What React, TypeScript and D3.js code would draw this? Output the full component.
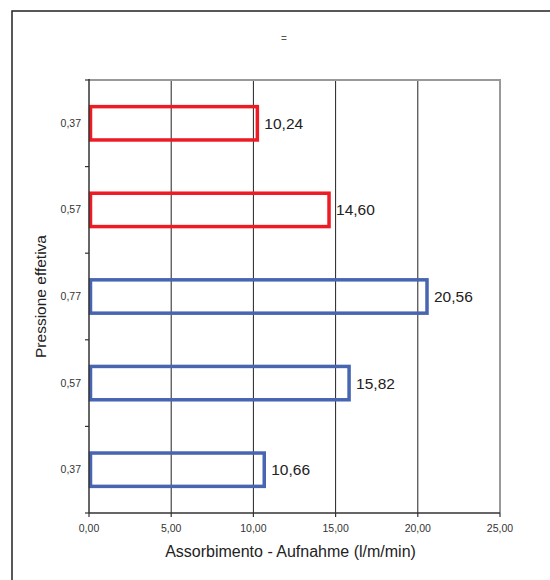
import React from "react";
import * as d3 from "d3";

const categories = ["0,37", "0,57", "0,77", "0,57", "0,37"];
const values = [10.24, 14.6, 20.56, 15.82, 10.66];
const seriesColor = ["#ED1C24", "#ED1C24", "#4865B2", "#4865B2", "#4865B2"];
const xTicks = [0, 5, 10, 15, 20, 25];
const titleText = "=";
const xTitle = "Assorbimento - Aufnahme (l/m/min)";
const yTitle = "Pressione effetiva";

const fmt = (v: number) => v.toFixed(2).replace(".", ",");

export default function App() {
  const W = 550, H = 580;
  const left = 89, right = 500, top = 80, bottom = 513;
  const x = d3.scaleLinear().domain([0, 25]).range([left, right]);
  const y = d3.scaleBand<number>().domain(categories.map((_, i) => i)).range([top, bottom]).padding(0);
  const bw = y.bandwidth();
  const barH = bw * 0.385;
  const font = "'Liberation Sans', Arial, sans-serif";

  return (
    <svg width={W} height={H} style={{ position: "absolute", left: 0, top: 0, background: "#fff" }} fontFamily={font}>
      <rect x={12} y={11} width={600} height={620} fill="#fff" stroke="#222" strokeWidth={1.5} />
      <text x={284} y={42} textAnchor="middle" fontSize={10} fill="#555">{titleText}</text>
      {/* gridlines */}
      {xTicks.slice(1, -1).map((t) => (
        <line key={t} x1={x(t)} x2={x(t)} y1={top} y2={bottom} stroke="#222" strokeWidth={1} />
      ))}
      <line x1={x(25)} x2={x(25)} y1={top} y2={bottom} stroke="#999" strokeWidth={2} />
      <line x1={left} x2={right + 1} y1={top} y2={top} stroke="#999" strokeWidth={2} />
      {/* bars */}
      {values.map((v, i) => (
        <rect
          key={i}
          x={x(0) + 1.5}
          y={(y(i) as number) + bw / 2 - barH / 2}
          width={x(v) - x(0) - 1.5}
          height={barH}
          fill="none"
          stroke={seriesColor[i]}
          strokeWidth={3.5}
        />
      ))}
      {values.map((v, i) => (
        <text key={"l" + i} x={x(v) + 7} y={(y(i) as number) + bw / 2 + 5.5} fontSize={15.5} fill="#222">
          {fmt(v)}
        </text>
      ))}
      {/* axes */}
      <line x1={left} x2={left} y1={top - 1} y2={bottom} stroke="#333" strokeWidth={1.5} />
      <line x1={left} x2={right} y1={bottom} y2={bottom} stroke="#333" strokeWidth={1.5} />
      {categories.map((_, i) => (
        <line key={"yt" + i} x1={left - 4} x2={left} y1={y(i) as number} y2={y(i) as number} stroke="#333" strokeWidth={1.2} />
      ))}
      <line x1={left - 4} x2={left} y1={bottom} y2={bottom} stroke="#333" strokeWidth={1.2} />
      {categories.map((c, i) => (
        <text key={"yl" + i} x={81} y={(y(i) as number) + bw / 2 + 3.5} textAnchor="end" fontSize={10.5} fill="#333">
          {c}
        </text>
      ))}
      {xTicks.map((t) => (
        <g key={"xt" + t}>
          <line x1={x(t)} x2={x(t)} y1={bottom} y2={bottom + 4} stroke="#333" strokeWidth={1.2} />
          <text x={x(t)} y={532} textAnchor="middle" fontSize={10.5} fill="#333">{fmt(t)}</text>
        </g>
      ))}
      <text x={290.5} y={557} textAnchor="middle" fontSize={16} fill="#222">{xTitle}</text>
      <text transform={`translate(45.5,${(top + bottom) / 2}) rotate(-90)`} textAnchor="middle" fontSize={15.5} fill="#222">
        {yTitle}
      </text>
    </svg>
  );
}
